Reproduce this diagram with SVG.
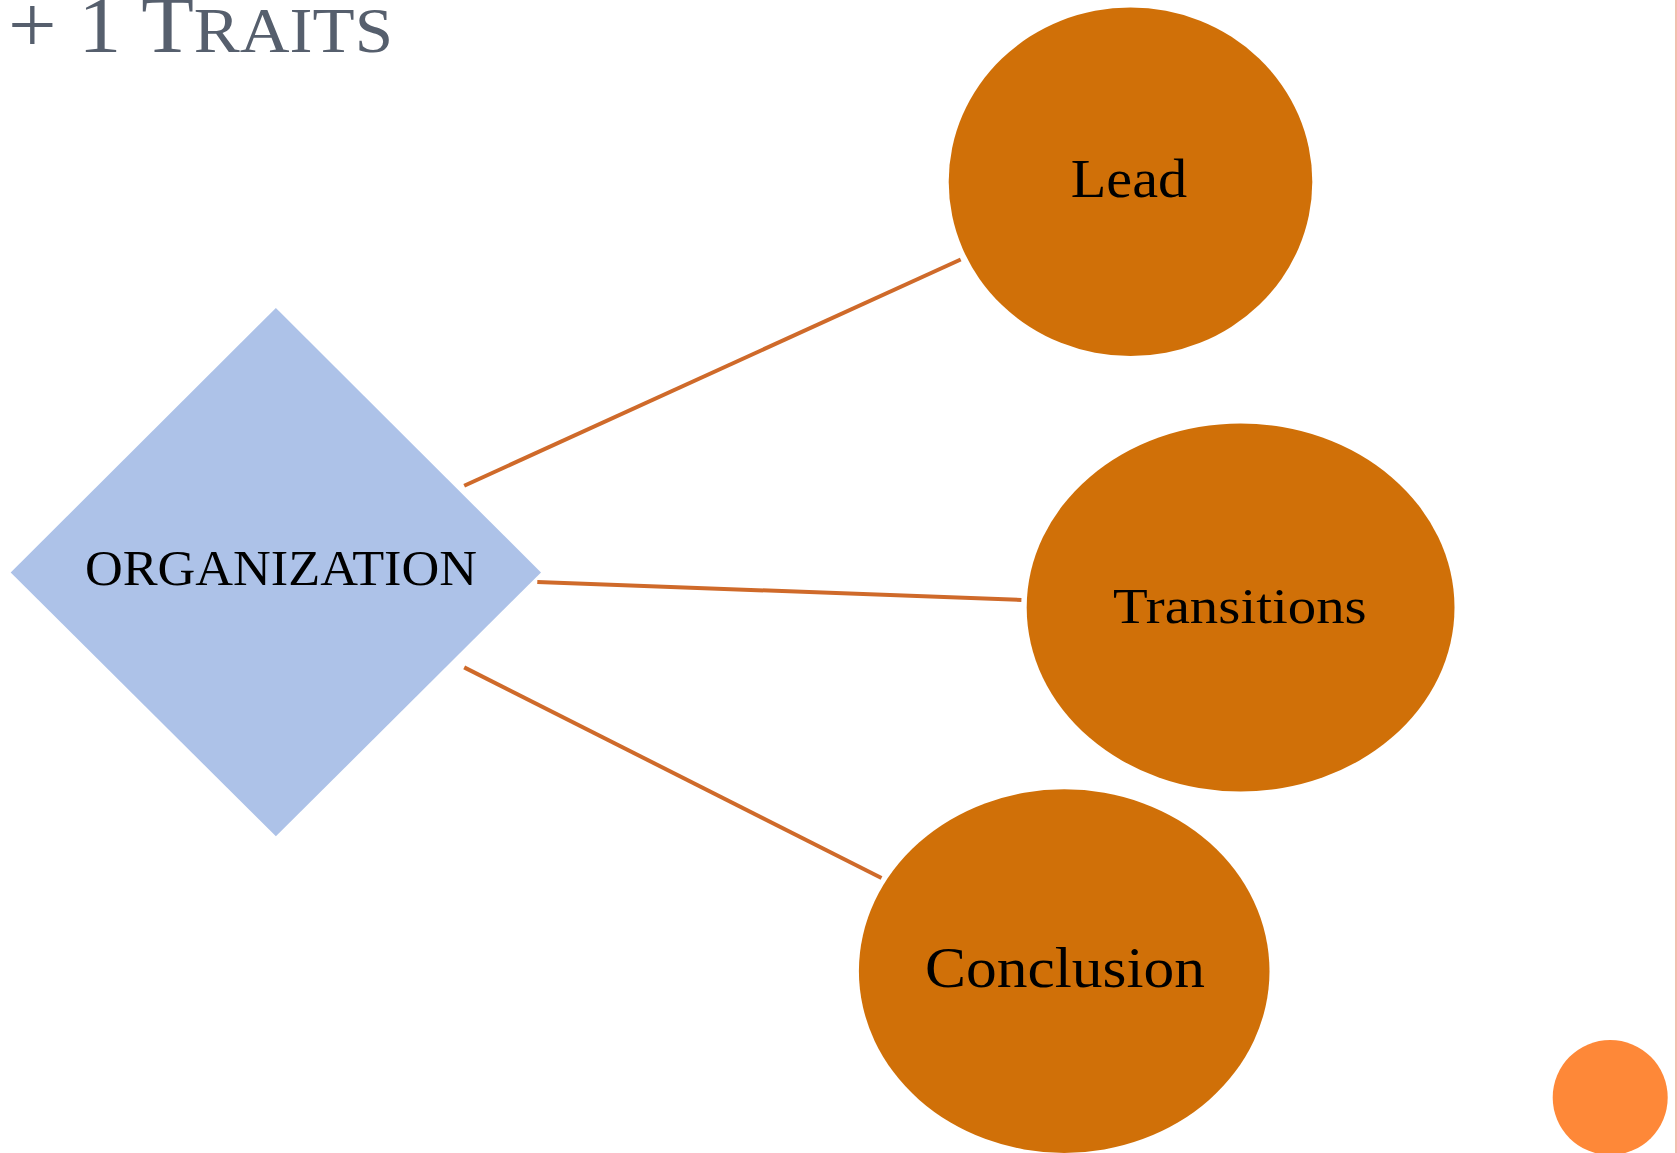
<svg xmlns="http://www.w3.org/2000/svg" width="1677" height="1153" viewBox="0 0 1677 1153">
  <style>
    .title { font-family: "Liberation Serif", "DejaVu Serif", serif; fill: #565f6d; }
    .label { font-family: "Liberation Serif", "DejaVu Serif", serif; fill: #000000; }
    .bubble { fill: #d07008; }
    .link { stroke: #cf6a2a; stroke-width: 4; stroke-linecap: butt; fill: none; }
  </style>
  <rect x="0" y="0" width="1677" height="1153" fill="#ffffff"/>
  <!-- page edge rule -->
  <line x1="1676" y1="0" x2="1676" y2="1153" stroke="#f2bfae" stroke-width="2"/>

  <!-- heading -->
  <text class="title" x="8" y="52" font-size="80" textLength="385" lengthAdjust="spacingAndGlyphs">+ 1 T<tspan font-size="64">RAITS</tspan></text>

  <!-- connectors -->
  <g id="connectors">
    <line class="link" x1="464.2" y1="485.7" x2="960.7" y2="259.5"/>
    <line class="link" x1="537.3" y1="582" x2="1021.4" y2="600"/>
    <line class="link" x1="464.2" y1="667.4" x2="881.5" y2="878"/>
  </g>

  <g id="organization">
    <polygon points="275.9,308 541,572.5 275.9,836.3 10.7,572.5" fill="#adc2e8"/>
    <text class="label" x="85" y="585" font-size="50" textLength="392" lengthAdjust="spacingAndGlyphs">ORGANIZATION</text>
  </g>

  <g id="lead">
    <ellipse class="bubble" cx="1130.5" cy="181.8" rx="181.8" ry="174.3"/>
    <text class="label" x="1070.7" y="197.3" font-size="54" textLength="116.5" lengthAdjust="spacingAndGlyphs">Lead</text>
  </g>

  <g id="transitions">
    <ellipse class="bubble" cx="1240.6" cy="607.5" rx="213.9" ry="184"/>
    <text class="label" x="1113" y="623.3" font-size="50" textLength="253.7" lengthAdjust="spacingAndGlyphs">Transitions</text>
  </g>

  <g id="conclusion">
    <ellipse class="bubble" cx="1064.2" cy="971.1" rx="205.3" ry="181.8"/>
    <text class="label" x="925" y="987.3" font-size="58" textLength="280" lengthAdjust="spacingAndGlyphs">Conclusion</text>
  </g>

  <!-- corner dot -->
  <circle cx="1610.2" cy="1097.5" r="57.5" fill="#fe8838"/>
</svg>
